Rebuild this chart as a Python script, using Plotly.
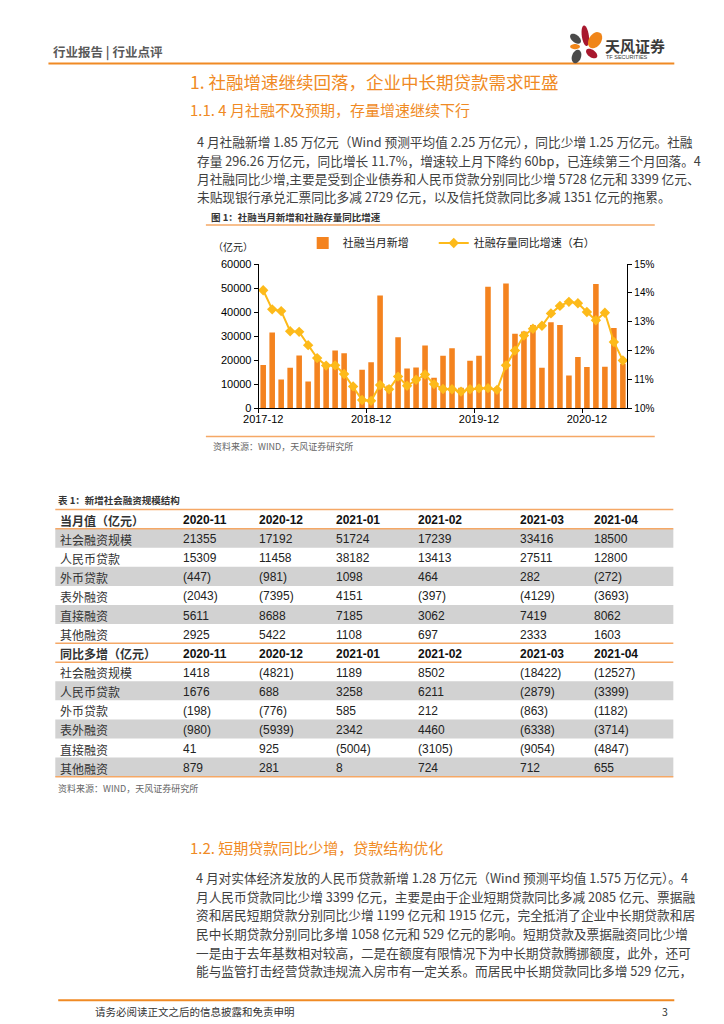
import math
import plotly.graph_objects as go

# ---------------- data ----------------
months = ["2017-12","2018-01","2018-02","2018-03","2018-04","2018-05","2018-06","2018-07","2018-08","2018-09",
          "2018-10","2018-11","2018-12","2019-01","2019-02","2019-03","2019-04","2019-05","2019-06","2019-07",
          "2019-08","2019-09","2019-10","2019-11","2019-12","2020-01","2020-02","2020-03","2020-04","2020-05",
          "2020-06","2020-07","2020-08","2020-09","2020-10","2020-11","2020-12","2021-01","2021-02","2021-03","2021-04"]
tsf_monthly = [18000, 31500, 12000, 16900, 22000, 11200, 20500, 17600, 24000, 22900,
               9000, 16000, 19200, 46900, 9500, 29600, 16600, 17000, 26100, 12700,
               21900, 25000, 8600, 19800, 21900, 50600, 8600, 51900, 31000, 31900,
               34600, 16900, 35800, 34600, 13700, 21355, 17192, 51724, 17239, 33416, 18500]
tsf_stock_yoy = [14.09, 13.43, 13.37, 12.67, 12.65, 12.19, 11.74, 11.48, 11.49, 11.19,
                 10.76, 10.29, 10.26, 10.81, 10.66, 11.10, 10.78, 10.99, 11.17, 10.84,
                 10.67, 10.66, 10.58, 10.66, 10.69, 10.70, 10.64, 11.49, 12.00, 12.52,
                 12.76, 12.86, 13.29, 13.55, 13.69, 13.64, 13.34, 13.05, 13.31, 12.30, 11.66]
xtick_labels = ["2017-12", "2018-12", "2019-12", "2020-12"]
xtick_bounds = [-0.5, 11.5, 23.5, 35.5]

table_cols = ["2020-11", "2020-12", "2021-01", "2021-02", "2021-03", "2021-04"]
row_labels = ["社会融资规模", "人民币贷款", "外币贷款", "表外融资", "直接融资", "其他融资"]
monthly_tsf = [21355, 17192, 51724, 17239, 33416, 18500]
monthly_rmb = [15309, 11458, 38182, 13413, 27511, 12800]
monthly_fx = [-447, -981, 1098, 464, 282, -272]
monthly_obs = [-2043, -7395, 4151, -397, -4129, -3693]
monthly_direct = [5611, 8688, 7185, 3062, 7419, 8062]
monthly_other = [2925, 5422, 1108, 697, 2333, 1603]
yoy_tsf = [1418, -4821, 1189, 8502, -18422, -12527]
yoy_rmb = [1676, 688, 3258, 6211, -2879, -3399]
yoy_fx = [-198, -776, 585, 212, -863, -1182]
yoy_obs = [-980, -5939, 2342, 4460, -6338, -3714]
yoy_direct = [41, 925, -5004, -3105, -9054, -4847]
yoy_other = [879, 281, 8, 724, 712, 655]

para1 = [
    "4 月社融新增 1.85 万亿元（Wind 预测平均值 2.25 万亿元），同比少增 1.25 万亿元。社融",
    "存量 296.26 万亿元，同比增长 11.7%，增速较上月下降约 60bp，已连续第三个月回落。4",
    "月社融同比少增,主要是受到企业债券和人民币贷款分别同比少增 5728 亿元和 3399 亿元、",
    "未贴现银行承兑汇票同比多减 2729 亿元，以及信托贷款同比多减 1351 亿元的拖累。",
]
para2 = [
    "4 月对实体经济发放的人民币贷款新增 1.28 万亿元（Wind 预测平均值 1.575 万亿元）。4",
    "月人民币贷款同比少增 3399 亿元，主要是由于企业短期贷款同比多减 2085 亿元、票据融",
    "资和居民短期贷款分别同比少增 1199 亿元和 1915 亿元，完全抵消了企业中长期贷款和居",
    "民中长期贷款分别同比多增 1058 亿元和 529 亿元的影响。短期贷款及票据融资同比少增",
    "一是由于去年基数相对较高，二是在额度有限情况下为中长期贷款腾挪额度，此外，还可",
    "能与监管打击经营贷款违规流入房市有一定关系。而居民中长期贷款同比多增 529 亿元，",
]

# ---------------- helpers ----------------
W, H = 724, 1024
OFF = 8  # body margin of the host page; figure coordinates are compensated for it
CJK = "Noto Sans CJK SC"
LAT = "Liberation Sans"
ORANGE = "#F08A24"
LIGHT_OR = "#F5A866"
TXT = "#404040"


def X(p):
    return (p - OFF) / W


def Y(p):
    return 1 - (p - OFF) / H


annotations = []
shapes = []


def text(s, x, y, size=12, color=TXT, family=CJK, anchor="left"):
    annotations.append(dict(text=s, x=X(x), y=Y(y), xref="paper", yref="paper",
                            xanchor=anchor, yanchor="middle", showarrow=False,
                            font=dict(size=size, color=color, family=family)))


def hline(x0, x1, y, color=LIGHT_OR, width=1.5):
    shapes.append(dict(type="line", xref="paper", yref="paper", x0=X(x0), x1=X(x1),
                       y0=Y(y), y1=Y(y), line=dict(color=color, width=width)))


def band(x0, x1, y0, y1, color):
    shapes.append(dict(type="rect", xref="paper", yref="paper", x0=X(x0), x1=X(x1),
                       y0=Y(y1), y1=Y(y0), fillcolor=color, line=dict(width=0), layer="below"))


def petal(cx, cy, rx, ry, ang, color):
    a = math.radians(ang)
    pts = []
    for i in range(36):
        t = 2 * math.pi * i / 36
        ex, ey = rx * math.cos(t), ry * math.sin(t)
        px = cx + ex * math.cos(a) - ey * math.sin(a)
        py = cy + ex * math.sin(a) + ey * math.cos(a)
        pts.append(f"{X(px):.5f},{Y(py):.5f}")
    shapes.append(dict(type="path", xref="paper", yref="paper", path="M" + " L".join(pts) + " Z",
                       fillcolor=color, line=dict(width=0)))


def fmt(v):
    return f"({-v})" if v < 0 else f"{v}"


# ---------------- figure / chart ----------------
fig = go.Figure()
fig.add_trace(go.Bar(x=months, y=tsf_monthly, name="社融当月新增", marker=dict(color="#F4831F", line=dict(width=0)),
                     width=0.62, xaxis="x", yaxis="y", legend="legend", showlegend=True))
fig.add_trace(go.Scatter(x=months, y=tsf_stock_yoy, name="社融存量同比增速（右）", mode="lines+markers",
                         line=dict(color="#FDBA1A", width=2),
                         marker=dict(symbol="diamond", size=8, color="#FDBA1A"),
                         xaxis="x", yaxis="y2", legend="legend2", showlegend=True))
fig.add_trace(go.Scatter(x=[], y=[], xaxis="x2", yaxis="y", showlegend=False, hoverinfo="skip"))

xd = [X(248), X(625)]
yd = [Y(407), Y(261)]
legend_font = dict(family=CJK, size=11, color="#222")
fig.update_layout(
    width=W, height=H, margin=dict(l=0, r=0, t=0, b=0),
    paper_bgcolor="white", plot_bgcolor="white", showlegend=True,
    xaxis=dict(domain=xd, anchor="y", type="category", range=[-0.5, len(months) - 0.5],
               tickmode="array", tickvals=xtick_labels, ticktext=xtick_labels, ticks="",
               showline=True, linecolor="black", linewidth=1, showgrid=False,
               tickfont=dict(family=LAT, size=11, color="black")),
    xaxis2=dict(domain=xd, anchor="y", overlaying="x", type="linear", range=[-0.5, len(months) - 0.5],
                tickmode="array", tickvals=xtick_bounds, ticks="outside", ticklen=4, tickcolor="black",
                showticklabels=False, showline=False, showgrid=False, zeroline=False, side="bottom"),
    yaxis=dict(domain=yd, anchor="x", range=[0, 60000], dtick=10000, tickformat="d",
               ticks="outside", ticklen=4, tickcolor="black", showline=True, linecolor="black",
               linewidth=1, showgrid=False, zeroline=False,
               tickfont=dict(family=LAT, size=11, color="black")),
    yaxis2=dict(domain=yd, anchor="x", overlaying="y", side="right", range=[10, 15], dtick=1,
                ticksuffix="%", ticks="outside", ticklen=4, tickcolor="black", showline=True,
                linecolor="black", linewidth=1, showgrid=False, zeroline=False,
                tickfont=dict(family=LAT, size=10, color="black")),
    legend=dict(orientation="h", x=X(293), y=Y(225), xanchor="left", yanchor="top",
                bgcolor="rgba(0,0,0,0)", font=legend_font, visible=True),
    legend2=dict(orientation="h", x=X(427), y=Y(225), xanchor="left", yanchor="top",
                 bgcolor="rgba(0,0,0,0)", font=legend_font, visible=True),
)

# ---------------- page header ----------------
text("<b>行业报告 | 行业点评</b>", 36, 46, size=12.5, color="#5A5A5A")
hline(33, 673, 58, color=ORANGE, width=2)
petal(572, 33, 6.5, 3.8, 40, "#4A4A4A")
petal(582, 30, 3.6, 10.5, -8, "#A8182E")
petal(592, 34.5, 6.2, 9, 35, "#F08519")
petal(571.5, 41, 5, 2.6, 0, "#F08519")
petal(588.5, 48, 6.5, 3.8, 35, "#A8182E")
petal(573, 51, 4.6, 7, 20, "#4A4A4A")
text("<b>天风证券</b>", 600, 40, size=15, color="#3A3A3A")
text("TF SECURITIES", 601, 52, size=5.5, color="#3A3A3A", family=LAT)

# ---------------- section 1 ----------------
text("1. 社融增速继续回落，企业中长期贷款需求旺盛", 176, 76, size=17.5, color=ORANGE)
text("1.1. 4 月社融不及预期，存量增速继续下行", 176, 104.5, size=15, color=ORANGE)
for i, line in enumerate(para1):
    text(line, 183, 137.5 + 18.4 * i, size=12.7)

# chart frame
text("<b>图 1：社融当月新增和社融存量同比增速</b>", 197, 213.5, size=9.5, color="#333")
hline(194, 653, 221.5)
text("（亿元）", 222, 243.5, size=10, color="#222", anchor="center")
hline(194, 653, 435.5)
text("资料来源：WIND，天风证券研究所", 199, 446, size=9, color="#666")

# ---------------- table ----------------
text("<b>表 1：新增社会融资规模结构</b>", 41, 500, size=9.5, color="#333")
col_x = [169, 246, 325, 409, 513, 589]
GRAY = "#D2D2D2"
RH = 19.3
blocks = [
    ("当月值（亿元）", [monthly_tsf, monthly_rmb, monthly_fx, monthly_obs, monthly_direct, monthly_other], 0),
    ("同比多增（亿元）", [yoy_tsf, yoy_rmb, yoy_fx, yoy_obs, yoy_direct, yoy_other], 1),
]
TL, TR = 40, 672
top = 509.5
for title, rows, parity in blocks:
    hline(TL, TR, top)
    text("<b>" + title + "</b>", 43, top + RH / 2 + 1, size=12, color="#333")
    for c, cx in zip(table_cols, col_x):
        text("<b>" + c + "</b>", cx, top + RH / 2 + 1, size=12, color="#111", family=LAT)
    hline(TL, TR, top + RH)
    y0 = top + RH
    for r, (lab, vals) in enumerate(zip(row_labels, rows)):
        if r % 2 == parity:
            band(TL, TR, y0 + r * RH, y0 + (r + 1) * RH, GRAY)
        cy = y0 + r * RH + RH / 2 + 1
        text(lab, 43, cy, size=12, color="#333")
        for v, cx in zip(vals, col_x):
            text(fmt(v), cx, cy, size=12, color="#222", family=LAT)
    top = y0 + 6 * RH
hline(TL, TR, top)
text("资料来源：WIND，天风证券研究所", 41, top + 12, size=9, color="#666")

# ---------------- section 1.2 ----------------
text("1.2. 短期贷款同比少增，贷款结构优化", 176, 851, size=15, color=ORANGE)
for i, line in enumerate(para2):
    text(line, 182, 882 + 18.8 * i, size=12.7)

# ---------------- footer ----------------
hline(43, 673, 1006, color=ORANGE, width=2)
text("请务必阅读正文之后的信息披露和免责申明", 79, 1017, size=10.5, color="#333")
text("3", 669, 1017, size=10.5, color="#333", anchor="right")

fig.update_layout(annotations=annotations, shapes=shapes)
fig.write_html("out.html")
